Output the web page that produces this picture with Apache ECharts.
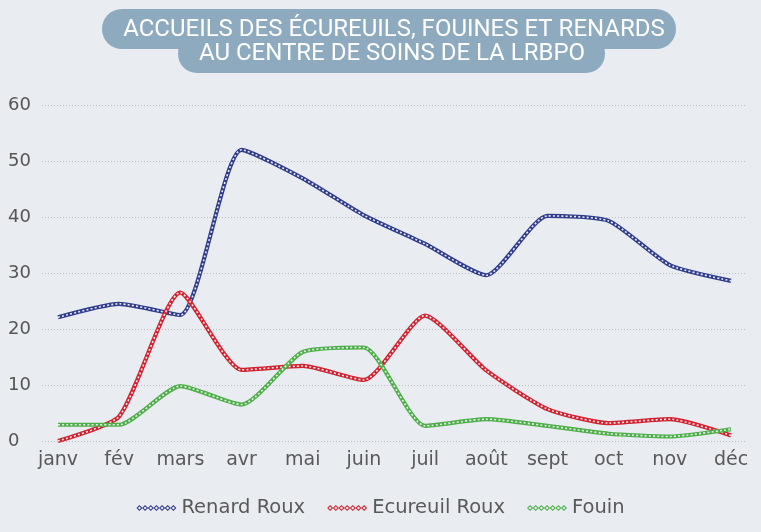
<!DOCTYPE html>
<html>
<head>
<meta charset="utf-8">
<script src="https://cdn.jsdelivr.net/npm/echarts@6/dist/echarts.min.js"></script>
<style>
html,body{margin:0;padding:0;background:#e9ecf1;}
#chart{width:761px;height:532px;}
</style>
</head>
<body>
<div id="chart"></div>
<script>
const categories = ['janv','fév','mars','avr','mai','juin','juil','août','sept','oct','nov','déc'];
const renardRoux = [22.1, 24.5, 22.5, 52.0, 46.9, 40.3, 35.2, 29.6, 40.2, 39.3, 31.4, 28.6];
const ecureuilRoux = [0, 4.4, 26.5, 12.7, 13.4, 10.9, 22.4, 12.6, 5.7, 3.2, 3.9, 1.0];
const fouin = [2.9, 2.9, 9.8, 6.5, 15.9, 16.7, 2.7, 3.9, 2.7, 1.3, 0.8, 2.1];
const seriesNames = ['Renard Roux', 'Ecureuil Roux', 'Fouin'];
const seriesColors = ['#2f3c8c', '#d3212f', '#4caf45'];
const yMin = 0, yMax = 60, yStep = 10;

const BG = '#e9ecf1';
const FONT = 'DejaVu Sans';
const SMOOTH = 0.2;

function diamondChainPath(n, step, r, ri) {
  let p = '';
  for (let i = 0; i < n; i++) {
    const cx = r + i * step, cy = r;
    p += `M${cx},${cy - r}L${cx + r},${cy}L${cx},${cy + r}L${cx - r},${cy}Z`;
    p += `M${cx},${cy - ri}L${cx - ri},${cy}L${cx},${cy + ri}L${cx + ri},${cy}Z`;
  }
  return 'path://' + p;
}
const legendIcon = diamondChainPath(7, 5.6, 3, 1.6);

const dataSets = [renardRoux, ecureuilRoux, fouin];
const series = [];
dataSets.forEach((d, i) => {
  series.push({
    name: seriesNames[i], type: 'line', data: d, xAxisIndex: 1, yAxisIndex: 1,
    smooth: SMOOTH, showSymbol: false, symbol: legendIcon,
    lineStyle: { color: seriesColors[i], width: 4.2 },
    itemStyle: { color: seriesColors[i] },
    z: 2 + i * 2
  });
  series.push({
    name: '_' + seriesNames[i], type: 'line', data: d, xAxisIndex: 1, yAxisIndex: 1,
    smooth: SMOOTH, showSymbol: false, silent: true,
    lineStyle: { color: BG, width: 1.6, type: [2, 2.2] },
    z: 3 + i * 2
  });
});

const chart = echarts.init(document.getElementById('chart'));
chart.setOption({
  backgroundColor: BG,
  animation: false,
  textStyle: { fontFamily: FONT },
  graphic: [
    { type: 'rect', shape: { x: 102, y: 9, width: 574, height: 40, r: 20 }, style: { fill: '#8eaabf' } },
    { type: 'rect', shape: { x: 178, y: 34, width: 427, height: 39, r: 19 }, style: { fill: '#8eaabf' } },
    { type: 'text', x: 394, y: 30, style: { text: 'ACCUEILS DES ÉCUREUILS, FOUINES ET RENARDS', align: 'center', verticalAlign: 'middle', fill: '#ffffff', fontFamily: 'Roboto', fontSize: 24 } },
    { type: 'text', x: 392, y: 54, style: { text: 'AU CENTRE DE SOINS DE LA LRBPO', align: 'center', verticalAlign: 'middle', fill: '#ffffff', fontFamily: 'Roboto', fontSize: 24 } }
  ],
  grid: [
    { left: 42, right: 16, top: 105, bottom: 91 },
    { left: 58, right: 30, top: 105, bottom: 91 }
  ],
  legend: {
    data: seriesNames,
    bottom: 9,
    left: 'center',
    itemWidth: 40, itemHeight: 7, itemGap: 22,
    icon: legendIcon,
    textStyle: { color: '#595959', fontSize: 19.5, fontFamily: FONT }
  },
  xAxis: [
    { type: 'category', gridIndex: 0, data: categories, show: false },
    {
      type: 'category', gridIndex: 1, data: categories, boundaryGap: false,
      axisLine: { show: false }, axisTick: { show: false },
      axisLabel: { color: '#595959', fontSize: 19, margin: 10, fontFamily: FONT, interval: 0, hideOverlap: false }
    }
  ],
  yAxis: [
    {
      type: 'value', gridIndex: 0, min: yMin, max: yMax, interval: yStep,
      axisLine: { show: false }, axisTick: { show: false },
      axisLabel: { color: '#555555', fontSize: 18, align: 'left', margin: 34, fontFamily: FONT },
      splitLine: { lineStyle: { color: '#b8bcc2', type: [1, 2], width: 1 } }
    },
    { type: 'value', gridIndex: 1, min: yMin, max: yMax, interval: yStep, show: false, splitLine: { show: false } }
  ],
  series: series
});
</script>
</body>
</html>
